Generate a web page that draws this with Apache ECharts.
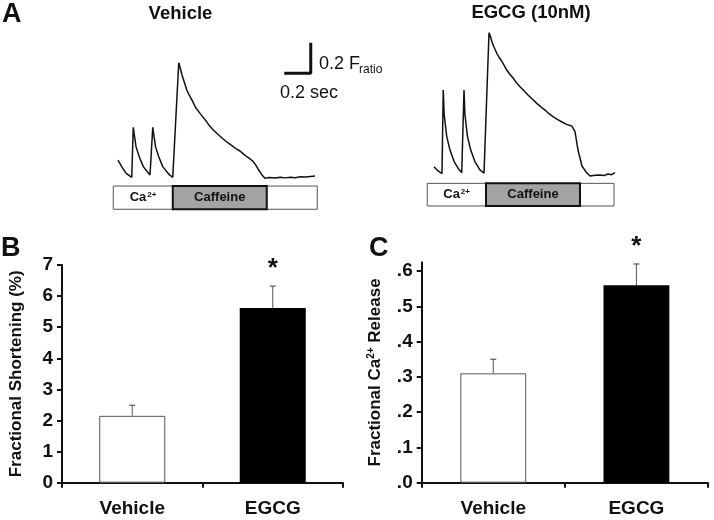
<!DOCTYPE html>
<html>
<head>
<meta charset="utf-8">
<script src="https://cdn.jsdelivr.net/npm/echarts@6/dist/echarts.min.js"></script>
<style>html,body{margin:0;padding:0;background:#fff}#c{width:714px;height:520px}</style>
</head>
<body>
<div id="c"></div>
<script>
// ---- Panel A: Ca2+ transients (time in s, F ratio) ----
const vehT = [0.000,0.032,0.064,0.110,0.116,0.122,0.144,0.170,0.202,0.256,0.272,0.278,0.300,0.326,0.358,0.412,0.438,0.448,
  0.486,0.500,0.512,0.530,0.550,0.570,0.592,0.620,0.656,0.680,0.704,0.730,0.762,0.790,0.832,0.870,0.922,0.950,0.976,1.000,1.030,1.060,1.082,1.100,1.120,1.152,1.176,1.210,1.256,1.300,1.336,1.380,1.416,1.460,1.496,1.540,1.576];
const vehF = [1.116,1.068,1.027,0.998,1.007,1.340,1.208,1.139,1.071,1.014,1.007,1.340,1.208,1.139,1.071,1.014,0.998,1.007,
  1.783,1.740,1.699,1.650,1.596,1.560,1.527,1.478,1.436,1.410,1.384,1.352,1.322,1.300,1.267,1.240,1.208,1.190,1.178,1.160,1.139,1.122,1.105,1.085,1.055,1.014,0.991,0.996,0.993,0.999,0.994,0.998,0.995,1.001,1.000,1.004,1.007];
const egcgT = [0.000,0.032,0.064,0.068,0.074,0.081,0.102,0.128,0.160,0.200,0.222,0.234,0.240,0.247,0.268,0.294,0.326,0.366,0.400,0.408,
  0.440,0.452,0.464,0.480,0.502,0.520,0.536,0.560,0.582,0.605,0.632,0.660,0.688,0.720,0.752,0.790,0.822,0.855,0.888,0.920,0.954,0.990,1.024,1.060,1.102,1.116,1.128,1.152,1.184,1.216,1.248,1.290,1.328,1.360,1.392,1.420,1.448];
const egcgF = [1.050,1.021,1.003,1.007,1.575,1.411,1.256,1.164,1.087,1.030,1.009,1.014,1.575,1.411,1.256,1.164,1.087,1.030,1.005,1.014,
  1.968,1.940,1.904,1.870,1.827,1.800,1.781,1.745,1.712,1.685,1.658,1.625,1.598,1.570,1.541,1.510,1.484,1.460,1.438,1.413,1.392,1.372,1.356,1.340,1.329,1.325,1.290,1.164,1.055,1.014,0.986,0.992,0.993,0.989,1.000,0.995,1.010];
// protocol: [start, caffeine on, caffeine off, end] (s)
const vehProtocol = [-0.038, 0.438, 1.190, 1.594];
const egcgProtocol = [-0.054, 0.416, 1.168, 1.440];
// scale bar: 0.2 s / 0.2 F
const scaleBarT = [1.342, 1.542, 1.542];
const scaleBarF = [1.710, 1.710, 1.910];

// ---- Panels B and C ----
const categories = ['Vehicle', 'EGCG'];
const shortMean = [2.15, 5.62];
const shortErr = [0.34, 0.70];
const releaseMean = [0.31, 0.56];
const releaseErr = [0.04, 0.06];
const significance = ['', '*'];
const releaseTicks = [0, 0.1, 0.2, 0.3, 0.4, 0.5, 0.6];

const FONT = 'Liberation Sans, Arial, sans-serif';
const zip = (a, b) => a.map((v, i) => [v, b[i]]);

function protocolAreas(p, fTop, fBot) {
  return [
    [{xAxis: p[0], yAxis: fTop, itemStyle: {color: '#fff', borderColor: '#555', borderWidth: 1}},
     {xAxis: p[3], yAxis: fBot}],
    [{xAxis: p[1], yAxis: fTop, itemStyle: {color: '#a3a3a3', borderColor: '#111', borderWidth: 2},
      label: {show: true, position: 'inside', formatter: 'Caffeine', color: '#111', fontSize: 13, fontWeight: 'bold', fontFamily: FONT}},
     {xAxis: p[2], yAxis: fBot}],
    [{xAxis: p[0], yAxis: fTop, itemStyle: {color: 'rgba(0,0,0,0)', borderWidth: 0},
      label: {show: true, position: 'inside', formatter: '{a|Ca}{s|2+}', color: '#111',
        rich: {a: {fontSize: 13, fontWeight: 'bold', fontFamily: FONT, lineHeight: 14},
               s: {fontSize: 8, fontWeight: 'bold', fontFamily: FONT, lineHeight: 14, verticalAlign: 'top', padding: [0,0,0,1]}}}},
     {xAxis: p[1], yAxis: fBot}]
  ];
}

function errRender(sig) {
  return function (params, api) {
    const x = api.value(0), m = api.value(1), e = api.value(2);
    const p0 = api.coord([x, m]);
    const p1 = api.coord([x, m + e]);
    const children = [
      {type: 'line', shape: {x1: p0[0], y1: p0[1], x2: p1[0], y2: p1[1]}, style: {stroke: '#555', lineWidth: 1}},
      {type: 'line', shape: {x1: p1[0] - 3, y1: p1[1], x2: p1[0] + 3, y2: p1[1]}, style: {stroke: '#555', lineWidth: 1.2}}
    ];
    if (sig[x]) children.push({type: 'text', x: p1[0], y: p1[1] - 17,
      style: {text: sig[x], fontSize: 26, fontWeight: 'bold', fontFamily: FONT, fill: '#111', align: 'center', verticalAlign: 'middle'}});
    return {type: 'group', children};
  };
}

const hiddenAxis = {show: false};
const barYAxisBase = {
  type: 'value', min: 0,
  axisLine: {show: true, lineStyle: {color: '#111', width: 2}},
  axisTick: {show: true, length: 5, lineStyle: {color: '#111', width: 2}},
  splitLine: {show: false},
  axisLabel: {color: '#111', fontSize: 19, fontWeight: 'bold', fontFamily: FONT, margin: 9},
  nameLocation: 'middle', nameGap: 37,
  nameTextStyle: {color: '#111', fontSize: 17, fontWeight: 'bold', fontFamily: FONT}
};
const barXAxisBase = {
  type: 'category', data: categories,
  axisLine: {lineStyle: {color: '#111', width: 2}},
  axisTick: {show: true, length: 5, lineStyle: {color: '#111', width: 2}},
  axisLabel: {color: '#111', fontSize: 19, fontWeight: 'bold', fontFamily: FONT, margin: 17}
};

const chart = echarts.init(document.getElementById('c'), null, {renderer: 'canvas'});
chart.setOption({
  animation: false,
  backgroundColor: '#fff',
  grid: [
    {left: 111.75, top: 31, width: 206.25, height: 204.4},
    {left: 426.5, top: 28, width: 195, height: 204.4},
    {left: 62, top: 265, width: 281, height: 217.7},
    {left: 421.7, top: 262.2, width: 286.3, height: 220.5}
  ],
  xAxis: [
    Object.assign({type: 'value', gridIndex: 0, min: -0.05, max: 1.6}, hiddenAxis),
    Object.assign({type: 'value', gridIndex: 1, min: -0.06, max: 1.5}, hiddenAxis),
    Object.assign({gridIndex: 2}, barXAxisBase),
    Object.assign({gridIndex: 3}, barXAxisBase)
  ],
  yAxis: [
    Object.assign({type: 'value', gridIndex: 0, min: 0.6, max: 2.0}, hiddenAxis),
    Object.assign({type: 'value', gridIndex: 1, min: 0.6, max: 2.0}, hiddenAxis),
    Object.assign({}, barYAxisBase, {gridIndex: 2, max: 7, interval: 1, name: 'Fractional Shortening (%)'}),
    Object.assign({}, barYAxisBase, {gridIndex: 3, max: 0.625, interval: 0.1,
      name: '{a|Fractional Ca}{s|2+}{a| Release}',
      nameTextStyle: {color: '#111', fontSize: 17, fontWeight: 'bold', fontFamily: FONT,
        rich: {a: {fontSize: 17, fontWeight: 'bold', fontFamily: FONT, color: '#111', lineHeight: 18},
               s: {fontSize: 10, fontWeight: 'bold', fontFamily: FONT, color: '#111', lineHeight: 18, verticalAlign: 'top'}}},
      axisTick: {show: true, length: 5, lineStyle: {color: '#111', width: 2}, customValues: releaseTicks},
      axisLabel: Object.assign({}, barYAxisBase.axisLabel, {customValues: releaseTicks,
        formatter: v => v.toFixed(1).replace(/^0/, '')})})
  ],
  graphic: [
    {type: 'text', left: 2, top: 1, style: {text: 'A', fontSize: 27, fontWeight: 'bold', fontFamily: FONT, fill: '#111'}},
    {type: 'text', left: 1, top: 235, style: {text: 'B', fontSize: 27, fontWeight: 'bold', fontFamily: FONT, fill: '#111'}},
    {type: 'text', left: 369, top: 235, style: {text: 'C', fontSize: 27, fontWeight: 'bold', fontFamily: FONT, fill: '#111'}},
    {type: 'text', x: 180.5, y: 14, style: {text: 'Vehicle', fontSize: 18.5, fontWeight: 'bold', fontFamily: FONT, fill: '#111', align: 'center', verticalAlign: 'middle'}},
    {type: 'text', x: 531, y: 13, style: {text: 'EGCG (10nM)', fontSize: 18.5, fontWeight: 'bold', fontFamily: FONT, fill: '#111', align: 'center', verticalAlign: 'middle'}},
    {type: 'text', x: 319, y: 64, style: {text: '0.2 F', fontSize: 18, fontFamily: FONT, fill: '#111', align: 'left', verticalAlign: 'middle'}},
    {type: 'text', x: 359, y: 70, style: {text: 'ratio', fontSize: 12, fontFamily: FONT, fill: '#111', align: 'left', verticalAlign: 'middle'}},
    {type: 'text', x: 309, y: 93, style: {text: '0.2 sec', fontSize: 18, fontFamily: FONT, fill: '#111', align: 'center', verticalAlign: 'middle'}}
  ],
  series: [
    {type: 'line', xAxisIndex: 0, yAxisIndex: 0, data: zip(vehT, vehF), showSymbol: false,
      lineStyle: {color: '#111', width: 1.5}, silent: true, z: 3,
      markArea: {silent: true, data: protocolAreas(vehProtocol, 0.938, 0.779)}},
    {type: 'line', xAxisIndex: 1, yAxisIndex: 1, data: zip(egcgT, egcgF), showSymbol: false,
      lineStyle: {color: '#111', width: 1.5}, silent: true, z: 3,
      markArea: {silent: true, data: protocolAreas(egcgProtocol, 0.936, 0.781)}},
    {type: 'line', xAxisIndex: 0, yAxisIndex: 0, data: zip(scaleBarT, scaleBarF), showSymbol: false,
      lineStyle: {color: '#111', width: 3, cap: 'square'}, silent: true},
    {type: 'bar', xAxisIndex: 2, yAxisIndex: 2, barWidth: '47%',
      data: shortMean.map((v, i) => ({value: v, itemStyle: i === 0 ? {color: '#fff', borderColor: '#555', borderWidth: 1} : {color: '#000'}}))},
    {type: 'custom', xAxisIndex: 2, yAxisIndex: 2, renderItem: errRender(significance), z: 5,
      data: shortMean.map((v, i) => [i, v, shortErr[i]])},
    {type: 'bar', xAxisIndex: 3, yAxisIndex: 3, barWidth: '46%',
      data: releaseMean.map((v, i) => ({value: v, itemStyle: i === 0 ? {color: '#fff', borderColor: '#555', borderWidth: 1} : {color: '#000'}}))},
    {type: 'custom', xAxisIndex: 3, yAxisIndex: 3, renderItem: errRender(significance), z: 5,
      data: releaseMean.map((v, i) => [i, v, releaseErr[i]])}
  ]
});
</script>
</body>
</html>
